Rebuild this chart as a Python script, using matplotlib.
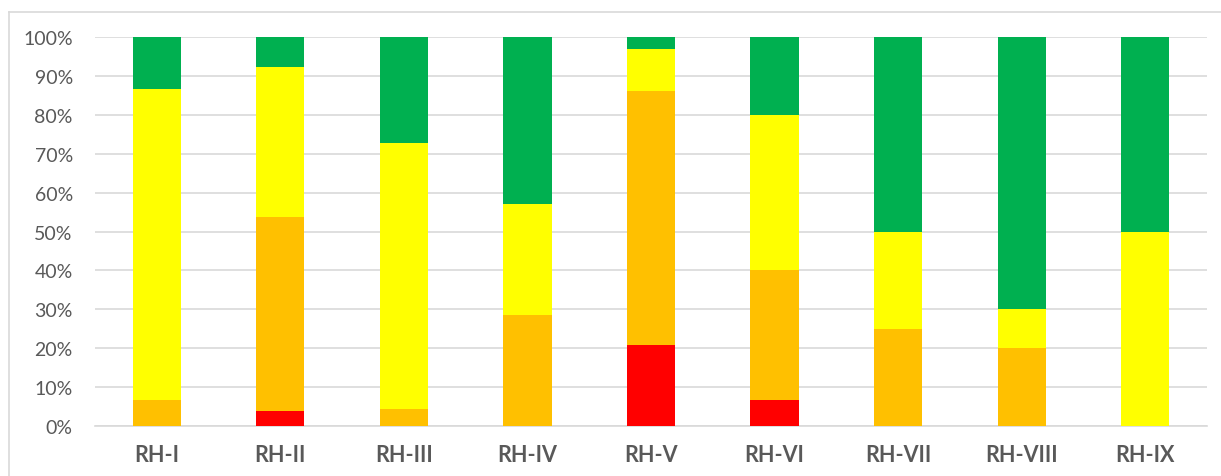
import matplotlib
matplotlib.use("Agg")
from matplotlib import pyplot as plt
from matplotlib.lines import Line2D
from matplotlib.ticker import PercentFormatter

categories = ['RH-I', 'RH-II', 'RH-III', 'RH-IV', 'RH-V', 'RH-VI', 'RH-VII', 'RH-VIII', 'RH-IX']
red = [0, 3.8, 0, 0, 20.7, 6.7, 0, 0, 0]
orange = [6.7, 50.0, 4.5, 28.6, 65.5, 33.3, 25.0, 20.0, 0]
yellow = [80.0, 38.5, 68.2, 28.5, 10.7, 40.0, 25.0, 10.0, 50.0]
green = [13.3, 7.7, 27.3, 42.9, 3.1, 20.0, 50.0, 70.0, 50.0]

series = [red, orange, yellow, green]
colors = ['#FF0000', '#FFC000', '#FFFF00', '#00B050']

plt.rcParams['font.family'] = ['Lato', 'DejaVu Sans']

fig = plt.figure(figsize=(12.21, 4.77), dpi=100)
ax = fig.add_axes([0.0778, 0.1048, 0.9107, 0.8155])

x = list(range(len(categories)))
bottom = [0] * len(categories)
for vals, col in zip(series, colors):
    ax.bar(x, vals, width=0.39, bottom=bottom, color=col, zorder=3)
    bottom = [b + v for b, v in zip(bottom, vals)]

ax.set_xlim(-0.5, len(categories) - 0.5)
ax.set_ylim(0, 100)
ax.set_yticks(range(0, 101, 10))
ax.yaxis.set_major_formatter(PercentFormatter(decimals=0))
ax.set_xticks(x)
ax.set_xticklabels(categories, fontsize=15.5, fontweight='bold', color='#595959')
ax.tick_params(axis='y', labelsize=14, labelcolor='#595959', length=0, pad=16)
ax.tick_params(axis='x', length=0, pad=13)
ax.grid(axis='y', color='#D9D9D9', linewidth=1.2, zorder=0)
for side in ['top', 'right', 'left']:
    ax.spines[side].set_visible(False)
ax.spines['bottom'].set_color('#D9D9D9')
ax.spines['bottom'].set_linewidth(1.2)

# chart area border (top and left edges visible)
fig.add_artist(Line2D([8.5 / 1221, 1], [1 - 12.5 / 477, 1 - 12.5 / 477],
                      transform=fig.transFigure, color='#D9D9D9', linewidth=1.2))
fig.add_artist(Line2D([8.5 / 1221, 8.5 / 1221], [0, 1 - 12.5 / 477],
                      transform=fig.transFigure, color='#D9D9D9', linewidth=1.2))

fig.savefig('out.png', dpi=100)
